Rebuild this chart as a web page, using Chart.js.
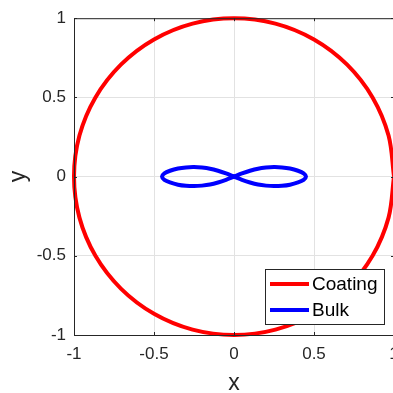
<!DOCTYPE html>
<html>
<head>
<meta charset="utf-8">
<script src="https://cdn.jsdelivr.net/npm/chart.js@4/dist/chart.umd.min.js"></script>
<style>
html, body { margin: 0; padding: 0; overflow: hidden; background: #fff; }
#wrap { width: 430px; height: 393px; }
</style>
</head>
<body>
<div id="wrap"><canvas id="plot" width="430" height="393"></canvas></div>
<script>
// data //
const seriesNames = ['Coating', 'Bulk'];
const seriesColors = ['#ff0000', '#0000ff'];

// outer curve (unit circle)
const coatingX = [1, 0.966, 0.866, 0.707, 0.5, 0.259, 0, -0.259, -0.5, -0.707, -0.866, -0.966, -1,
  -0.966, -0.866, -0.707, -0.5, -0.259, 0, 0.259, 0.5, 0.707, 0.866, 0.966, 1];
const coatingY = [0, 0.259, 0.5, 0.707, 0.866, 0.966, 1, 0.966, 0.866, 0.707, 0.5, 0.259, 0,
  -0.259, -0.5, -0.707, -0.866, -0.966, -1, -0.966, -0.866, -0.707, -0.5, -0.259, 0];

// inner figure eight, left lobe then right lobe
const bulkX = [0, -0.05, -0.1, -0.15, -0.2, -0.25, -0.3, -0.35, -0.4, -0.435, -0.45,
  -0.435, -0.4, -0.35, -0.3, -0.25, -0.2, -0.15, -0.1, -0.05, 0,
  0.05, 0.1, 0.15, 0.2, 0.25, 0.3, 0.35, 0.4, 0.435, 0.45,
  0.435, 0.4, 0.35, 0.3, 0.25, 0.2, 0.15, 0.1, 0.05, 0];
const bulkY = [0, -0.02, -0.037, -0.05, -0.057, -0.06, -0.058, -0.051, -0.037, -0.021, 0,
  0.021, 0.037, 0.051, 0.058, 0.06, 0.057, 0.05, 0.037, 0.02, 0,
  -0.02, -0.037, -0.05, -0.057, -0.06, -0.058, -0.051, -0.037, -0.021, 0,
  0.021, 0.037, 0.051, 0.058, 0.06, 0.057, 0.05, 0.037, 0.02, 0];

const xTickLabels = ['-1', '-0.5', '0', '0.5', '1'];
const yTickLabels = ['-1', '-0.5', '0', '0.5', '1'];

const fontFamily = '"Liberation Sans", Arial, sans-serif';
const axisColor = '#262626';
const gridColor = '#e2e2e2';

function toPoints(xs, ys) {
  return xs.map((x, i) => ({ x: x, y: ys[i] }));
}

// box, inward ticks and legend drawn on top //
const framePlugin = {
  id: 'frame',
  afterDraw(chart) {
    const { ctx, chartArea: a, scales } = chart;
    ctx.save();
    ctx.strokeStyle = axisColor;
    ctx.lineWidth = 1;
    ctx.strokeRect(a.left + 0.5, a.top + 0.5, a.right - a.left, a.bottom - a.top);

    ctx.beginPath();
    scales.x.ticks.forEach(t => {
      const px = Math.round(scales.x.getPixelForValue(t.value)) + 0.5;
      ctx.moveTo(px, a.bottom); ctx.lineTo(px, a.bottom - 3);
      ctx.moveTo(px, a.top); ctx.lineTo(px, a.top + 3);
    });
    scales.y.ticks.forEach(t => {
      const py = Math.round(scales.y.getPixelForValue(t.value)) + 0.5;
      ctx.moveTo(a.left, py); ctx.lineTo(a.left + 3, py);
      ctx.moveTo(a.right, py); ctx.lineTo(a.right - 3, py);
    });
    ctx.stroke();

    // legend
    ctx.font = '19px ' + fontFamily;
    const textW = Math.max(...seriesNames.map(n => ctx.measureText(n).width));
    const rowH = 26;
    const boxW = Math.round(5 + 39 + 3 + textW + 7);
    const boxH = 55;
    const bx = Math.round(a.right - 10 - boxW);
    const by = Math.round(a.bottom - 11 - boxH);
    ctx.fillStyle = '#ffffff';
    ctx.fillRect(bx, by, boxW, boxH);
    ctx.strokeStyle = axisColor;
    ctx.lineWidth = 1;
    ctx.strokeRect(bx + 0.5, by + 0.5, boxW, boxH);
    seriesNames.forEach((name, i) => {
      const ry = by + 15 + i * rowH;
      ctx.strokeStyle = seriesColors[i];
      ctx.lineWidth = 4;
      ctx.beginPath();
      ctx.moveTo(bx + 5, ry);
      ctx.lineTo(bx + 44, ry);
      ctx.stroke();
      ctx.fillStyle = '#000000';
      ctx.textBaseline = 'middle';
      ctx.textAlign = 'left';
      ctx.fillText(name, bx + 47, ry + 1);
    });
    ctx.restore();
  }
};

new Chart(document.getElementById('plot'), {
  type: 'scatter',
  data: {
    datasets: [
      {
        label: seriesNames[0],
        data: toPoints(coatingX, coatingY),
        borderColor: seriesColors[0],
        backgroundColor: seriesColors[0],
        borderWidth: 4,
        showLine: true,
        pointRadius: 0,
        tension: 0.34,
        clip: false
      },
      {
        label: seriesNames[1],
        data: toPoints(bulkX, bulkY),
        borderColor: seriesColors[1],
        backgroundColor: seriesColors[1],
        borderWidth: 4,
        showLine: true,
        pointRadius: 0,
        tension: 0.3,
        clip: false
      }
    ]
  },
  options: {
    responsive: false,
    animation: false,
    layout: { padding: { top: 15, right: 36, left: 0, bottom: 0 } },
    elements: { line: { capBezierPoints: false } },
    plugins: {
      legend: { display: false },
      tooltip: { enabled: false }
    },
    scales: {
      x: {
        type: 'linear',
        min: -1,
        max: 1,
        afterFit: s => { s.height = 58; },
        grid: { color: gridColor, drawTicks: false },
        border: { color: axisColor, width: 1 },
        ticks: {
          stepSize: 0.5,
          padding: 9,
          color: axisColor,
          font: { family: fontFamily, size: 17 },
          maxRotation: 0,
          autoSkip: false,
          callback: (v, i) => xTickLabels[i]
        },
        title: {
          display: true,
          text: 'x',
          color: axisColor,
          padding: 0,
          font: { family: fontFamily, size: 23, lineHeight: 0.8 }
        }
      },
      y: {
        type: 'linear',
        min: -1,
        max: 1,
        afterFit: s => { s.width = 74; },
        grid: { color: gridColor, drawTicks: false },
        border: { color: axisColor, width: 1 },
        ticks: {
          stepSize: 0.5,
          padding: 8,
          color: axisColor,
          font: { family: fontFamily, size: 17 },
          autoSkip: false,
          callback: (v, i) => yTickLabels[i]
        },
        title: {
          display: true,
          text: 'y',
          color: axisColor,
          padding: { top: 5, bottom: 0 },
          font: { family: fontFamily, size: 23 }
        }
      }
    }
  },
  plugins: [framePlugin]
});
</script>
</body>
</html>
